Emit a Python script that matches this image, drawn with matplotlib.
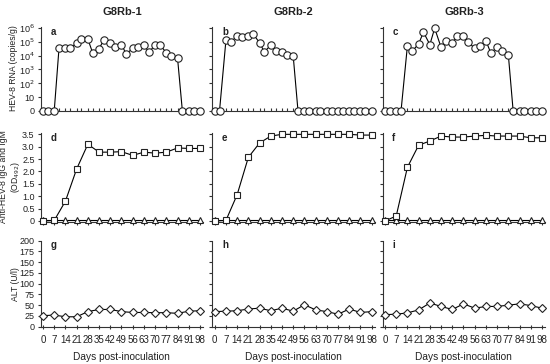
import matplotlib
matplotlib.use("Agg")
import matplotlib.pyplot as plt

plt.rcParams['font.family'] = ['Liberation Sans', 'DejaVu Sans']

# ---------------- data ----------------
rna_days = [0, 3, 7, 10, 14, 17, 21, 24, 28, 31, 35, 38, 42, 45, 49, 52, 56, 59,
            63, 66, 70, 73, 77, 80, 84, 87, 91, 94, 98]
weekly_days = [0, 7, 14, 21, 28, 35, 42, 49, 56, 63, 70, 77, 84, 91, 98]

# log10 RNA copies/g (0 = undetected)
rna_rb1 = [0, 0, 0, 4.55, 4.55, 4.55, 4.9, 5.2, 5.2, 4.2, 4.5, 5.15, 4.9, 4.6,
           4.8, 4.1, 4.55, 4.6, 4.8, 4.25, 4.75, 4.8, 4.2, 4.0, 3.8, 0, 0, 0, 0]
rna_rb2 = [0, 0, 5.1, 5.0, 5.4, 5.33, 5.45, 5.57, 4.93, 4.27, 4.76, 4.34, 4.27,
           4.03, 3.98, 0, 0, 0, 0, 0, 0, 0, 0, 0, 0, 0, 0, 0, 0]
rna_rb3 = [0, 0, 0, 0, 4.73, 4.33, 4.85, 5.7, 4.8, 5.98, 4.6, 5.08, 4.92, 5.39,
           5.39, 4.99, 4.52, 4.68, 5.08, 4.2, 4.6, 4.37, 4.04, 0, 0, 0, 0, 0, 0]

igg_rb1 = [0.0, 0.02, 0.8, 2.1, 3.1, 2.78, 2.78, 2.8, 2.65, 2.78, 2.74, 2.78, 2.95, 2.93, 2.93]
igg_rb2 = [0.0, 0.02, 1.06, 2.57, 3.15, 3.43, 3.5, 3.5, 3.5, 3.5, 3.5, 3.5, 3.5, 3.47, 3.47]
igg_rb3 = [0.0, 0.2, 2.17, 3.06, 3.23, 3.43, 3.39, 3.39, 3.43, 3.46, 3.43, 3.43, 3.43, 3.36, 3.36]
igm_rb1 = [0.03] * 15
igm_rb2 = [0.03] * 15
igm_rb3 = [0.03] * 15

alt_rb1 = [25.6, 27, 23, 23, 35, 40, 40, 35, 33, 33, 32.5, 32.5, 31, 36, 37]
alt_rb2 = [35, 36, 37, 41, 43, 37, 43, 36, 51, 39, 35, 29, 41, 33, 35]
alt_rb3 = [28, 29, 32, 39, 55, 47, 40, 53, 43, 47, 47, 50, 53, 49, 43]

titles = ['G8Rb-1', 'G8Rb-2', 'G8Rb-3']
letters = [['a', 'b', 'c'], ['d', 'e', 'f'], ['g', 'h', 'i']]
rna = [rna_rb1, rna_rb2, rna_rb3]
igg = [igg_rb1, igg_rb2, igg_rb3]
igm = [igm_rb1, igm_rb2, igm_rb3]
alt = [alt_rb1, alt_rb2, alt_rb3]

rna_ticks = [0, 1, 2, 3, 4, 5, 6]
rna_ticklabels = ['0', '10', '10$^2$', '10$^3$', '10$^4$', '10$^5$', '10$^6$']
od_ticks = [0, 0.5, 1.0, 1.5, 2.0, 2.5, 3.0, 3.5]
od_ticklabels = ['0', '0.5', '1.0', '1.5', '2.0', '2.5', '3.0', '3.5']
alt_ticks = [0, 25, 50, 75, 100, 125, 150, 175, 200]

# ---------------- layout ----------------
W, H = 550, 364
fig = plt.figure(figsize=(W / 100, H / 100), dpi=100)
lefts = [40.6, 212.3, 382.6]
axw = 162.6
rows = [(111, 26.6), (222.2, 133.1), (326.7, 240.5)]  # (bottom px, top px)

txtc = '#222222'
lw = 0.8
ms = 4.6

def mk_ax(col, row):
    l = lefts[col]
    b, t = rows[row]
    ax = fig.add_axes([l / W, (H - b) / H, axw / W, (b - t) / H])
    for s in ['top', 'right']:
        ax.spines[s].set_visible(False)
    for s in ['left', 'bottom']:
        ax.spines[s].set_linewidth(0.8)
        ax.spines[s].set_color('#333333')
    ax.set_xlim(-1.5, 100)
    ax.tick_params(axis='both', labelsize=7, colors='#333333', labelcolor=txtc,
                   width=0.8, length=2.5, pad=2)
    ax.tick_params(axis='y', labelsize=6.5, pad=1.8)
    return ax

def ylab(xpx, ypx, s):
    fig.text(xpx / W, (H - ypx) / H, s, rotation=90, ha='center', va='center',
             fontsize=6.2, color=txtc, linespacing=1.05)

for c in range(3):
    # --- RNA row ---
    ax = mk_ax(c, 0)
    ax.plot(rna_days, rna[c], '-o', color='black', lw=lw, ms=ms + 0.7,
            mfc='white', mec='#222222', mew=0.8, clip_on=False, zorder=3)
    ax.set_ylim(0, 6.1)
    ax.set_yticks(rna_ticks)
    ax.set_xticks(rna_days)
    ax.tick_params(axis='x', direction='in', length=2, labelbottom=False)
    if c == 0:
        ax.set_yticklabels(rna_ticklabels)
    else:
        ax.set_yticklabels([])
    ax.set_title(titles[c], fontsize=8, fontweight='bold', color=txtc, pad=8)
    ax.text(0.06, 1.0, letters[0][c], transform=ax.transAxes, fontsize=7,
            fontweight='bold', va='top', ha='left', color=txtc)

    # --- antibody row ---
    ax = mk_ax(c, 1)
    ax.plot(weekly_days, igm[c], '-^', color='black', lw=lw, ms=ms,
            mfc='white', mec='#222222', mew=0.8, clip_on=False, zorder=3)
    ax.plot(weekly_days, igg[c], '-s', color='black', lw=lw, ms=ms,
            mfc='white', mec='#222222', mew=0.8, clip_on=False, zorder=4)
    ax.set_ylim(-0.05, 3.55)
    ax.set_yticks(od_ticks)
    ax.set_xticks(weekly_days)
    ax.tick_params(axis='x', labelbottom=False, length=2)
    if c == 0:
        ax.set_yticklabels(od_ticklabels)
    else:
        ax.set_yticklabels([])
    ax.text(0.06, 1.0, letters[1][c], transform=ax.transAxes, fontsize=7,
            fontweight='bold', va='top', ha='left', color=txtc)

    # --- ALT row ---
    ax = mk_ax(c, 2)
    ax.plot(weekly_days, alt[c], '-D', color='black', lw=lw, ms=ms - 0.6,
            mfc='white', mec='#222222', mew=0.8, clip_on=False, zorder=3)
    ax.set_ylim(0, 200)
    ax.set_yticks(alt_ticks)
    ax.set_xticks(weekly_days)
    ax.set_xticklabels([str(d) for d in weekly_days])
    ax.tick_params(axis='x', direction='inout', length=3.5, pad=4)
    if c != 0:
        ax.set_yticklabels([])
    ax.set_xlabel('Days post-inoculation', fontsize=7.3, color=txtc, labelpad=5)
    ax.text(0.06, 1.0, letters[2][c], transform=ax.transAxes, fontsize=7,
            fontweight='bold', va='top', ha='left', color=txtc)

ylab(14, 68, 'HEV-8 RNA (copies/g)')
ylab(10.5, 177, 'Anti-HEV-8 IgG and IgM\n(OD$_{492}$)')
ylab(16, 284, 'ALT (U/l)')

fig.savefig('out.png', dpi=100)
